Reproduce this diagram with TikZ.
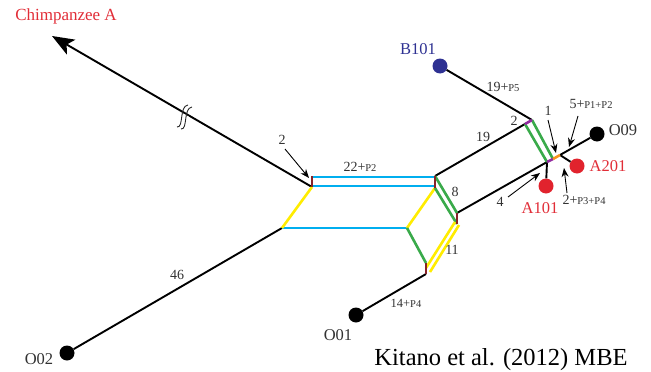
\documentclass[tikz,border=0pt]{standalone}
\usepackage{fontspec}
\setmainfont{Liberation Serif}
\usetikzlibrary{arrows.meta}
\definecolor{cyanb}{RGB}{0,174,239}
\definecolor{greenb}{RGB}{57,170,74}
\definecolor{yellowb}{RGB}{255,236,0}
\definecolor{brownb}{RGB}{135,35,40}
\definecolor{purpleb}{RGB}{146,45,160}
\definecolor{orangeb}{RGB}{247,148,29}
\definecolor{redd}{RGB}{225,35,45}
\definecolor{redt}{RGB}{225,45,55}
\definecolor{blued}{RGB}{46,49,146}
\definecolor{labgray}{RGB}{50,50,50}
\newcommand{\smtxt}[1]{{\fontsize{10.5}{10.5}\selectfont #1}}
\begin{document}
\begin{tikzpicture}[x=1pt,y=-1pt,
  blk/.style={line width=1.9pt, black},
  col/.style={line width=2.6pt},
  thinarrow/.style={line width=0.9pt, black, -{Stealth[length=9pt,width=7pt]}},
  dot/.style={circle, inner sep=0pt, minimum size=15pt},
  lab/.style={font=\fontsize{14}{14}\selectfont, text=labgray, inner sep=0pt},
  nlab/.style={font=\fontsize{16.5}{16.5}\selectfont, inner sep=0pt},
]
\useasboundingbox (0,0) rectangle (651,372);

% junction coordinates
\coordinate (chimptip) at (52,36);
\coordinate (br1t) at (312,176);
\coordinate (br1b) at (312,187);
\coordinate (br2t) at (435,176);
\coordinate (br2b) at (435,188);
\coordinate (br3t) at (457,213);
\coordinate (br3b) at (457,224);
\coordinate (br4t) at (426,263);
\coordinate (br4b) at (426,274);
\coordinate (lowL) at (282,228);
\coordinate (lowR) at (407,228);
\coordinate (t1) at (525,124);
\coordinate (t2) at (532,120);
\coordinate (b1) at (547,162);
\coordinate (b2) at (553,159);
\coordinate (e1) at (560,155);

% dots
\node[dot, fill=blued] (b101) at (440,66) {};
\node[dot, fill=black] (o09) at (597,134) {};
\node[dot, fill=redd] (a201) at (577,166) {};
\node[dot, fill=redd] (a101) at (546,186) {};
\node[dot, fill=black] (o01) at (356,315) {};
\node[dot, fill=black] (o02) at (67,353) {};

% black branches
\draw[blk, -{Stealth[length=22pt,width=17pt,inset=5pt]}] (br1b) -- (chimptip);
\draw[blk] (o02) -- (lowL);
\draw[blk] (br2t) -- (t1);
\draw[blk] (b101) -- (t2);
\draw[blk] (br3t) -- (b1);
\draw[blk] (e1) -- (o09);
\draw[blk] (e1) -- (a201);
\draw[blk] (b1) -- (a101);
\draw[blk] (o01) -- (br4b);

% break symbol
\draw[white, line width=4.5pt] (183,116) -- (188,118.9);
\draw[line width=0.9pt, black!85] (177,127) .. controls (184,128) and (179,106) .. (188,105);
\draw[line width=0.9pt, black!85] (181,129) .. controls (188,130) and (183,108) .. (192,107);

% coloured edges
\draw[col, cyanb] (313,177) -- (434,177);
\draw[col, cyanb] (313,186) -- (434,186);
\draw[col, cyanb] (lowL) -- (lowR);
\draw[col, yellowb] (br1b) -- (lowL);
\draw[col, yellowb] (br2b) -- (lowR);
\draw[col, greenb] (br2t) -- (br3t);
\draw[col, greenb] (br2b) -- (br3b);
\draw[col, greenb] (lowR) -- (br4t);
\draw[col, yellowb] (455,222) -- (426,268);
\draw[col, yellowb] (459,225) -- (430,272);
\draw[col, greenb] (t1) -- (b1);
\draw[col, greenb] (t2) -- (b2);
\draw[col, purpleb] (t1) -- (t2);
\draw[col, purpleb] (b1) -- (b2);
\draw[col, orangeb] (b2) -- (e1);
\draw[col, brownb] (br1t) -- (br1b);
\draw[col, brownb] (br2t) -- (br2b);
\draw[col, brownb] (br3t) -- (br3b);
\draw[col, brownb] (br4t) -- (br4b);

% pointer arrows with labels
\node[lab] (l2a) at (282,140) {2};
\coordinate (l2ae) at (309,178);
\draw[thinarrow] (285,149) -- (l2ae);
\node[lab] (l1) at (548,111) {1};
\coordinate (l1e) at (556,153);
\draw[thinarrow] (548,120) -- (l1e);
\node[lab] (l5) at (591,104) {5+\smtxt{P1+P2}};
\coordinate (l5e) at (569,147);
\draw[thinarrow] (578,116) -- (l5e);
\node[lab] (l2p) at (584,200) {2+\smtxt{P3+P4}};
\coordinate (l2pe) at (564,168);
\draw[thinarrow] (567,193) -- (l2pe);
\node[lab] (l4) at (500,202) {4};
\coordinate (l4e) at (540,173);
\draw[thinarrow] (508,197) -- (l4e);

% edge labels
\node[lab] at (360,167) {22+\smtxt{P2}};
\node[lab] at (483,137) {19};
\node[lab] at (503,87) {19+\smtxt{P5}};
\node[lab] at (514,121) {2};
\node[lab] at (455,192) {8};
\node[lab] at (452,250) {11};
\node[lab, font=\fontsize{12.5}{12.5}\selectfont] at (406,303) {14+\smtxt{P4}};
\node[lab] at (177,275) {46};

% node labels
\node[nlab, text=blued] at (418,49) {B101};
\node[nlab, text=labgray] at (623,130) {O09};
\node[nlab, text=redt] at (608,166) {A201};
\node[nlab, text=redt] at (540,208) {A101};
\node[nlab, text=labgray] at (338,335) {O01};
\node[nlab, text=labgray] at (39,359) {O02};
\node[font=\fontsize{17}{17}\selectfont, text=redt, inner sep=0pt] at (66,16) {Chimpanzee A};
\node[font=\fontsize{24.5}{24.5}\selectfont, inner sep=0pt] at (501,360) {Kitano et al. (2012) MBE};
\end{tikzpicture}
\end{document}
